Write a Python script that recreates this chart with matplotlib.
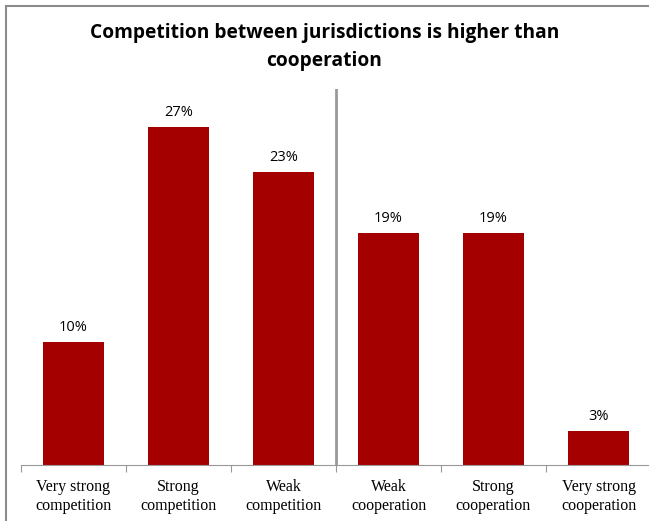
import numpy as np
import matplotlib.pyplot as plt
from matplotlib.lines import Line2D

categories = ['Very strong\ncompetition', 'Strong\ncompetition', 'Weak\ncompetition',
              'Weak\ncooperation', 'Strong\ncooperation', 'Very strong\ncooperation']
values = [9.8, 27, 23.4, 18.5, 18.5, 2.7]
labels = ['10%', '27%', '23%', '19%', '19%', '3%']

fig = plt.figure(figsize=(6.49, 5.21), dpi=100)
ax = fig.add_axes([21 / 649, 56 / 521, 630 / 649, 376 / 521])

x = np.arange(len(values))
ax.bar(x, values, width=0.58, color='#A50000')

for xi, v, lab in zip(x, values, labels):
    ax.annotate(lab, (xi, v), xytext=(0, 5), textcoords='offset points',
                ha='center', va='bottom', fontsize=10.5, family='Open Sans')

# separator between competition and cooperation
ax.axvline(2.5, color='#999999', linewidth=2)

ax.set_xlim(-0.5, 5.5)
ax.set_ylim(0, 30)
ax.set_yticks([])
ax.set_xticks(np.arange(-0.5, 6, 1))
ax.set_xticklabels([])
ax.set_xticks(x, minor=True)
ax.set_xticklabels(categories, minor=True, family='Liberation Serif', fontsize=11.5,
                   linespacing=1.25)
ax.tick_params(axis='x', which='major', length=5, color='#999999', direction='out')
ax.tick_params(axis='x', which='minor', length=0, pad=10)
for s in ['top', 'right', 'left']:
    ax.spines[s].set_visible(False)
ax.spines['bottom'].set_color('#999999')

fig.text(0.5, 0.955, 'Competition between jurisdictions is higher than\ncooperation',
         ha='center', va='top', fontsize=13.8, fontweight='bold', family='Open Sans',
         linespacing=1.5)

# chart border (only top and left visible in the crop)
fig.add_artist(Line2D([6 / 649, 6 / 649], [0, 1 - 6 / 521], color='#8c8c8c', lw=1.5,
                      transform=fig.transFigure))
fig.add_artist(Line2D([6 / 649, 1], [1 - 6 / 521, 1 - 6 / 521], color='#8c8c8c', lw=1.5,
                      transform=fig.transFigure))

fig.savefig('out.png', dpi=100)
